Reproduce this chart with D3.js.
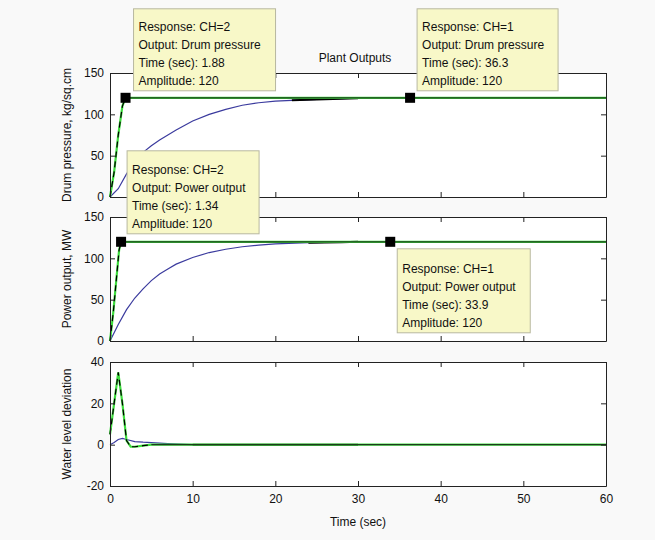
<!DOCTYPE html>
<html>
<head>
<meta charset="utf-8">
<script src="https://cdn.jsdelivr.net/npm/d3@7"></script>
<style>
  body { margin: 0; background: #f9f9f9; }
  svg { font-family: "Liberation Sans", Arial, sans-serif; }
  .tick text { font-size: 12px; fill: #111; }
  .tip text { font-size: 12px; fill: #111; }
</style>
</head>
<body>
<div id="plant-outputs"></div>
<script>

// time axis, shared by all three panels
var xTicks = [0, 10, 20, 30, 40, 50, 60];

// CH=1 (slow) responses
var drumCh1T = [0, 1, 2, 3, 4, 5, 6, 7, 8, 10, 12, 14, 16, 18, 20, 22, 25, 28, 30];
var drumCh1  = [0, 10, 28, 42, 54, 62, 69, 75, 81, 92, 100, 106, 111, 114, 116, 117, 118, 119, 119.5];
var powerCh1T = [0, 1, 2, 3, 4, 5, 6, 7, 8, 10, 12, 14, 16, 18, 20, 24, 28, 30];
var powerCh1  = [0, 20, 38, 52, 63, 73, 81, 87, 93, 101, 107, 111, 114, 116, 117.5, 119, 119.5, 120];
var waterCh1T = [0, 0.5, 1, 1.5, 2, 3, 4, 5, 7, 10, 30];
var waterCh1  = [0, 1, 2.5, 3, 2.5, 1.5, 1.2, 1, 0.5, 0, 0];

// CH=2 (fast) responses
var drumCh2T = [0, 0.5, 1, 1.5, 1.88, 60];
var drumCh2  = [0, 30, 75, 110, 120, 120];
var powerCh2T = [0, 0.4, 0.8, 1.1, 1.34, 60];
var powerCh2  = [0, 35, 78, 110, 120, 120];
var waterCh2T = [0, 0.5, 1, 1.5, 2, 2.5, 3, 4, 5, 60];
var waterCh2  = [5, 20, 35, 20, 2, -1, -1, -0.5, 0, 0];

// data tips
var tips = [
  {panel: 0, t: 1.88, a: 120, ch: 2, out: "Drum pressure"},
  {panel: 0, t: 36.3, a: 120, ch: 1, out: "Drum pressure"},
  {panel: 1, t: 1.34, a: 120, ch: 2, out: "Power output"},
  {panel: 1, t: 33.9, a: 120, ch: 1, out: "Power output"}
];

var width = 655, height = 540;
var svg = d3.select("#plant-outputs").append("svg")
    .attr("width", width).attr("height", height);

var x = d3.scaleLinear().domain([0, 60]).range([110, 606]);

var panels = [
  {top: 73,  bot: 197, dom: [0, 150], ticks: [0, 50, 100, 150], label: "Drum pressure, kg/sq.cm",
   ch1: [drumCh1T, drumCh1], ch2: [drumCh2T, drumCh2]},
  {top: 217, bot: 341, dom: [0, 150], ticks: [0, 50, 100, 150], label: "Power output, MW",
   ch1: [powerCh1T, powerCh1], ch2: [powerCh2T, powerCh2]},
  {top: 362, bot: 486, dom: [-20, 40], ticks: [-20, 0, 20, 40], label: "Water level deviation",
   ch1: [waterCh1T, waterCh1], ch2: [waterCh2T, waterCh2]}
];

var zip = function (p) { return p[0].map(function (t, i) { return [t, p[1][i]]; }); };
var plain = function (v) { return String(v); };   // keep the hyphen minus, like matlab

panels.forEach(function (p, k) {
  p.y = d3.scaleLinear().domain(p.dom).range([p.bot, p.top]);
  var g = svg.append("g");
  g.append("rect").attr("x", 110).attr("y", p.top).attr("width", 496).attr("height", p.bot - p.top)
    .attr("fill", "#ffffff");

  var line = d3.line().x(function (d) { return x(d[0]); }).y(function (d) { return p.y(d[1]); });
  var c1 = zip(p.ch1), c2 = zip(p.ch2);

  // slow response, blue, black over its tail
  g.append("path").attr("d", line(c1)).attr("fill", "none").attr("stroke", "#3b3b9e").attr("stroke-width", 1.2);
  g.append("path").attr("d", line(c1.filter(function (d) { return d[0] >= (k == 2 ? 10 : 22); })))
    .attr("fill", "none").attr("stroke", "#000").attr("stroke-width", 2);

  // fast response, green with black dashes on the rise
  g.append("path").attr("d", line(c2)).attr("fill", "none").attr("stroke", "#3ede3e").attr("stroke-width", 2.2);
  g.append("path").attr("d", line(c2.slice(0, c2.length - 1))).attr("fill", "none")
    .attr("stroke", "#000").attr("stroke-width", 1.2).attr("stroke-dasharray", "6,4");
  g.append("path").attr("d", line(c2.slice(c2.length - 2))).attr("fill", "none")
    .attr("stroke", "#1c3c1c").attr("stroke-width", 1.2);

  // axes: inward ticks on all four sides
  var ax = g.append("g");
  ax.append("g").attr("transform", "translate(0," + p.bot + ")")
    .call(d3.axisBottom(x).tickValues(xTicks).tickSizeInner(-5).tickSizeOuter(0).tickPadding(8)
      .tickFormat(k == 2 ? plain : ""));
  ax.append("g").attr("transform", "translate(0," + p.top + ")")
    .call(d3.axisTop(x).tickValues(xTicks).tickSizeInner(-5).tickSizeOuter(0).tickFormat(""));
  ax.append("g").attr("transform", "translate(110,0)")
    .call(d3.axisLeft(p.y).tickValues(p.ticks).tickSizeInner(-5).tickSizeOuter(0).tickPadding(6).tickFormat(plain));
  ax.append("g").attr("transform", "translate(606,0)")
    .call(d3.axisRight(p.y).tickValues(p.ticks).tickSizeInner(-5).tickSizeOuter(0).tickFormat(""));
  ax.selectAll(".domain").attr("stroke", "#222");
  ax.selectAll(".tick line").attr("stroke", "#222");
  ax.selectAll(".tick text").attr("font-family", null).attr("font-size", null);

  g.append("text").attr("transform", "translate(71," + ((p.top + p.bot) / 2) + ") rotate(-90)")
    .attr("text-anchor", "middle").attr("font-size", 12).attr("fill", "#111").text(p.label);
});

svg.append("text").attr("x", 355).attr("y", 62).attr("text-anchor", "middle")
  .attr("font-size", 12).attr("fill", "#111").text("Plant Outputs");
svg.append("text").attr("x", 358).attr("y", 526).attr("text-anchor", "middle")
  .attr("font-size", 12).attr("fill", "#111").text("Time (sec)");

// data tip boxes, placed like the original ones
var boxPos = [
  {dx: 8,  dy: -89, w: 142, h: 82},
  {dx: 7,  dy: -89, w: 141, h: 82},
  {dx: 6,  dy: -91, w: 132, h: 83},
  {dx: 7,  dy: 7,   w: 133, h: 84}
];
tips.forEach(function (d, i) {
  var p = panels[d.panel], mx = x(d.t), my = p.y(d.a), b = boxPos[i];
  var g = svg.append("g").attr("class", "tip");
  var bx = mx + b.dx, by = Math.max(8, my + b.dy);
  var bh = b.h - (by - (my + b.dy));
  g.append("rect").attr("x", bx).attr("y", by).attr("width", b.w).attr("height", bh)
    .attr("fill", "#f8f8c8").attr("stroke", "#b8b8a0");
  var lines = ["Response: CH=" + d.ch, "Output: " + d.out, "Time (sec): " + d.t, "Amplitude: " + d.a];
  lines.forEach(function (s, j) {
    g.append("text").attr("x", bx + 5).attr("y", by + bh - 70 + j * 18 + 10).text(s);
  });
  g.append("rect").attr("x", mx - 5).attr("y", my - 5).attr("width", 10).attr("height", 10).attr("fill", "#000");
});

</script>
</body>
</html>
